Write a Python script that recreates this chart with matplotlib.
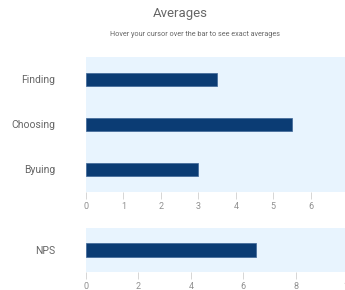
import matplotlib
matplotlib.use("Agg")
import matplotlib.pyplot as plt

# data
stages = ["Finding", "Choosing", "Byuing"]
stage_avgs = [3.5, 5.5, 3.0]
nps_label = ["NPS"]
nps_avg = [6.5]

BAR = "#0b3c74"
BG = "#e8f4fe"
TXT = "#666666"
TICK = "#909090"

plt.rcParams["font.family"] = ["Roboto", "DejaVu Sans"]

fig = plt.figure(figsize=(3.45, 2.9), dpi=100)
fig.patch.set_facecolor("white")

def style(ax, xmax, ticks):
    ax.set_facecolor(BG)
    for s in ax.spines.values():
        s.set_visible(False)
    ax.set_xlim(0, xmax)
    ax.set_xticks(ticks)
    ax.tick_params(axis="x", length=5, width=0.6, color="#d0d0d0",
                   labelsize=6.5, labelcolor=TICK, pad=2)
    ax.tick_params(axis="y", length=0, labelsize=7.5, labelcolor=TXT, pad=22)

# top panel
ax1 = fig.add_axes([0.2493, 0.338, 0.76, 0.4655])
ax1.barh(stages, stage_avgs, height=0.31, color=BAR, edgecolor="#3d6596", linewidth=0.5)
ax1.set_ylim(2.5, -0.5)
style(ax1, 7, range(0, 7))

# bottom panel
ax2 = fig.add_axes([0.2493, 0.062, 0.76, 0.152])
ax2.barh(nps_label, nps_avg, height=0.32, color=BAR, edgecolor="#3d6596", linewidth=0.5)
ax2.set_ylim(-0.5, 0.5)
style(ax2, 10, range(0, 11, 2))

fig.text(0.522, 0.955, "Averages", ha="center", va="center", fontsize=9.5, color=TXT)
fig.text(0.565, 0.882, "Hover your cursor over the bar to see exact averages",
         ha="center", va="center", fontsize=5.2, color=TXT)

fig.savefig("out.png", dpi=100)
